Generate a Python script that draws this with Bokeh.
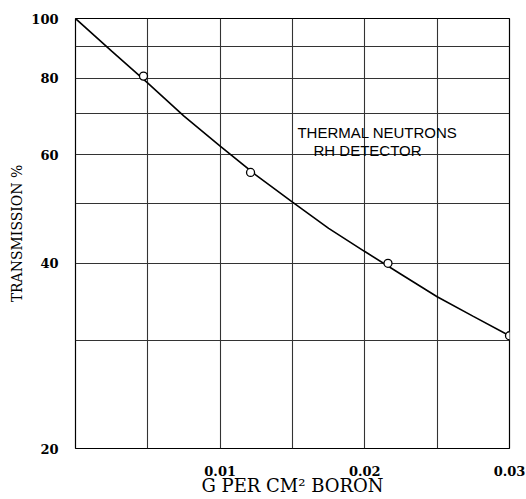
from bokeh.plotting import figure
from bokeh.models import FixedTicker, Label
from bokeh.embed import file_html
from bokeh.resources import INLINE

# Data
curve_x = [0.0, 0.0025, 0.005, 0.0075, 0.01, 0.0125, 0.015, 0.0175, 0.02, 0.0225, 0.025, 0.0275, 0.03]
curve_y = [100.0, 88.5, 78.5, 69.4, 62.0, 55.6, 50.3, 45.6, 41.8, 38.4, 35.3, 32.8, 30.5]
meas_x = [0.0047, 0.0121, 0.0216, 0.0300]
meas_y = [80.6, 56.2, 40.0, 30.5]

x_ticks = [0.01, 0.02, 0.03]
x_tick_labels = ["0.01", "0.02", "0.03"]
x_grid = [0.0, 0.005, 0.01, 0.015, 0.02, 0.025, 0.03]
y_ticks = [20, 40, 60, 80, 100]
y_tick_labels = ["20", "40", "60", "80", "100"]
y_grid = [20, 30, 40, 50, 60, 70, 80, 90, 100]

p = figure(width=526, height=499, output_backend="svg", toolbar_location=None,
           x_range=(0.0, 0.03), y_range=(20, 100), y_axis_type="log",
           min_border_left=75, min_border_right=17, min_border_top=18, min_border_bottom=51)

p.outline_line_color = "black"
p.outline_line_width = 1.2
p.background_fill_color = "white"
p.border_fill_color = "white"

p.xaxis.ticker = FixedTicker(ticks=x_ticks)
p.xaxis.major_label_overrides = {t: s for t, s in zip(x_ticks, x_tick_labels)}
p.yaxis.ticker = FixedTicker(ticks=y_ticks)
p.yaxis.major_label_overrides = {t: s for t, s in zip(y_ticks, y_tick_labels)}

for ax in (p.xaxis, p.yaxis):
    ax.axis_line_color = None
    ax.major_tick_line_color = None
    ax.minor_tick_line_color = None
    ax.major_label_text_font = "DejaVu Serif"
    ax.major_label_text_font_style = "bold"
    ax.major_label_text_font_size = "13px"
    ax.major_label_text_color = "black"
    ax.axis_label_text_font = "DejaVu Serif"
    ax.axis_label_text_font_style = "normal"
    ax.axis_label_text_color = "black"

p.xaxis.axis_label = "G PER CM² BORON"
p.yaxis.axis_label = "TRANSMISSION %"
p.xaxis.axis_label_text_font_size = "18px"
p.yaxis.axis_label_text_font_size = "14px"
p.xaxis.major_label_standoff = 11
p.yaxis.major_label_standoff = 11
p.xaxis.axis_label_standoff = -4
p.yaxis.axis_label_standoff = 3

p.xgrid.ticker = FixedTicker(ticks=x_grid)
p.ygrid.ticker = FixedTicker(ticks=y_grid)
for g in (p.xgrid, p.ygrid):
    g.grid_line_color = "#333333"
    g.grid_line_width = 1.1
    g.grid_line_alpha = 1.0

p.line(curve_x, curve_y, line_color="black", line_width=1.6)
p.scatter(meas_x, meas_y, marker="circle", size=8, fill_color="white",
          line_color="black", line_width=1.3)

ann_font = "Liberation Sans"
p.add_layout(Label(x=0.01534, y=65.3, text="THERMAL NEUTRONS", text_font=ann_font,
                   text_font_size="15px", text_color="black", text_baseline="alphabetic"))
p.add_layout(Label(x=0.01645, y=61.0, text="RH DETECTOR", text_font=ann_font,
                   text_font_size="15px", text_color="black", text_baseline="alphabetic"))

open("out.html", "w").write(file_html(p, INLINE))
